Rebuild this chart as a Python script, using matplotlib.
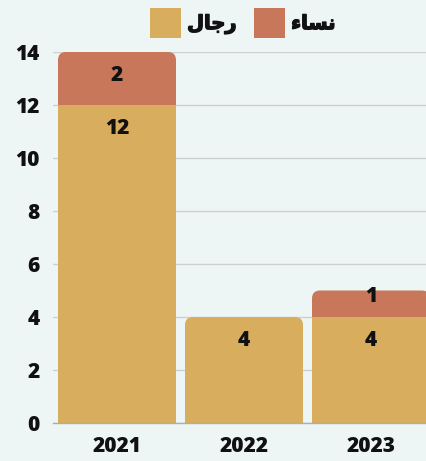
import matplotlib
matplotlib.use("Agg")
import matplotlib.pyplot as plt
from matplotlib.path import Path
from matplotlib.patches import PathPatch, Patch
import matplotlib.patheffects as pe

years = ["2021", "2022", "2023"]
men = [12, 4, 4]
women = [2, 0, 1]
series_names = ["رجال", "نساء"]
yticks = [0, 2, 4, 6, 8, 10, 12, 14]

GOLD = "#D9AD5E"
RED = "#C8775A"
BG = "#EEF6F5"

# minimal Arabic shaping for display (matplotlib has no complex text layout)
_forms = {
    # letter: (isolated, final, initial, medial)
    "ر": ("\uFEAD", "\uFEAE", None, None),
    "ج": ("\uFE9D", "\uFE9E", "\uFE9F", "\uFEA0"),
    "ا": ("\uFE8D", "\uFE8E", None, None),
    "ل": ("\uFEDD", "\uFEDE", "\uFEDF", "\uFEE0"),
    "ن": ("\uFEE5", "\uFEE6", "\uFEE7", "\uFEE8"),
    "س": ("\uFEB1", "\uFEB2", "\uFEB3", "\uFEB4"),
    "ء": ("\uFE80", None, None, None),
}

def shape(word):
    out = []
    n = len(word)
    for i, ch in enumerate(word):
        f = _forms.get(ch)
        if f is None:
            out.append(ch)
            continue
        prev = word[i - 1] if i > 0 else None
        nxt = word[i + 1] if i < n - 1 else None
        joins_prev = prev is not None and _forms.get(prev, (None,) * 4)[2] is not None and f[1] is not None
        joins_next = nxt is not None and f[2] is not None and _forms.get(nxt, (None,) * 4)[1] is not None
        if joins_prev and joins_next:
            out.append(f[3])
        elif joins_prev:
            out.append(f[1])
        elif joins_next:
            out.append(f[2])
        else:
            out.append(f[0])
    return "".join(reversed(out))

WEIGHT = 800
plt.rcParams["font.family"] = ["Open Sans", "DejaVu Sans"]
plt.rcParams["font.weight"] = WEIGHT

W, H = 427, 461
fig = plt.figure(figsize=(W / 100, H / 100), dpi=100, facecolor=BG)
ax = fig.add_axes([53.5 / W, 38 / H, 381 / W, 371 / H], facecolor=BG)

x = list(range(len(years)))
bw = 118 / 127
b_men = ax.bar(x, men, width=bw, color=GOLD, zorder=2, linewidth=0)
b_women = ax.bar(x, women, width=bw, bottom=men, color=RED, zorder=2, linewidth=0)

ax.set_xlim(-0.5, len(years) - 0.5)
ax.set_ylim(0, 14)
ax.set_yticks(yticks)
ax.set_xticks(x)
ax.set_xticklabels(years)
ax.tick_params(axis="both", length=0, labelsize=15, colors="#111111")
ax.tick_params(axis="y", pad=10)
ax.tick_params(axis="x", pad=9)
for lab in ax.get_xticklabels() + ax.get_yticklabels():
    lab.set_fontweight(WEIGHT)
ax.grid(axis="y", color="#CBD1D1", linewidth=1, zorder=0)
ax.set_axisbelow(True)
for s in ["top", "right", "left"]:
    ax.spines[s].set_visible(False)
ax.spines["bottom"].set_color("#A9AEAE")
ax.spines["bottom"].set_linewidth(1)
ax.spines["bottom"].set_zorder(3)

# rounded tops
fig.canvas.draw()
p0 = ax.transData.transform((0, 0))
p1 = ax.transData.transform((1, 1))
pxx, pxy = p1[0] - p0[0], p1[1] - p0[1]
rpx = 8
rx, ry = rpx / pxx, rpx / pxy
for i in range(len(years)):
    top = b_women[i] if women[i] > 0 else b_men[i]
    bx, by = top.get_x(), top.get_y()
    w, h = top.get_width(), top.get_height()
    verts = [(bx, by), (bx, by + h - ry), (bx, by + h), (bx + rx, by + h),
             (bx + w - rx, by + h), (bx + w, by + h), (bx + w, by + h - ry),
             (bx + w, by), (bx, by)]
    codes = [Path.MOVETO, Path.LINETO, Path.CURVE3, Path.CURVE3, Path.LINETO,
             Path.CURVE3, Path.CURVE3, Path.LINETO, Path.CLOSEPOLY]
    top.set_visible(False)
    ax.add_patch(PathPatch(Path(verts, codes), facecolor=top.get_facecolor(),
                           edgecolor="none", zorder=2))

# value labels
for bars, vals, bottoms in [(b_men, men, [0] * len(men)), (b_women, women, men)]:
    for bar, v, b in zip(bars, vals, bottoms):
        if v == 0:
            continue
        seg_px = v * pxy
        off = min(23.5, seg_px - 21)
        ax.annotate(str(v), (bar.get_x() + bar.get_width() / 2, b + v),
                    xytext=(0, -off * 0.72), textcoords="offset points",
                    ha="center", va="center", fontsize=15, fontweight=WEIGHT,
                    color="#111111", zorder=4)

handles = [Patch(facecolor=GOLD, edgecolor="none"), Patch(facecolor=RED, edgecolor="none")]
leg = fig.legend(handles, [shape(s) for s in series_names], ncol=2, loc="center",
                 bbox_to_anchor=(243 / W, 1 - 23 / H), frameon=False,
                 prop={"family": "DejaVu Sans", "weight": "bold", "size": 14},
                 handlelength=1.6, handleheight=2.0, handletextpad=0.3,
                 columnspacing=0.9, borderpad=0, borderaxespad=0)
for t in leg.get_texts():
    t.set_color("#111111")
    t.set_path_effects([pe.withStroke(linewidth=1.0, foreground="#111111")])

fig.savefig("out.png", dpi=100, facecolor=BG)
